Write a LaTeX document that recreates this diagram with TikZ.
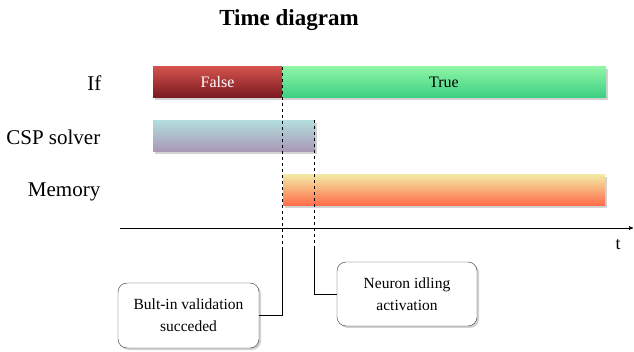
\documentclass[tikz,border=0pt]{standalone}
\usepackage{fontspec}
\setmainfont{Liberation Serif}
\usetikzlibrary{arrows,shadows}

\definecolor{falsetop}{HTML}{D1524C}
\definecolor{falsebot}{HTML}{7A1820}
\definecolor{truetop}{HTML}{8EF5A6}
\definecolor{truebot}{HTML}{3CCF82}
\definecolor{csptop}{HTML}{B2DCDC}
\definecolor{cspbot}{HTML}{A996B6}
\definecolor{memtop}{HTML}{F4E7A2}
\definecolor{membot}{HTML}{FF6A48}

\begin{document}
\begin{tikzpicture}[x=1pt,y=-1pt,>=stealth',thick,
  bar node/.style={rectangle,draw=none,minimum height=31pt,inner sep=0pt,
    drop shadow={shadow xshift=2pt,shadow yshift=-2pt,fill=black!25,opacity=0.7},
    font=\fontsize{16}{18}\selectfont},
  row label/.style={anchor=east,font=\fontsize{21}{23}\selectfont},
  note node/.style={rectangle,rounded corners=9pt,draw=black!80,fill=white,thin,
    minimum width=141pt,minimum height=65pt,align=center,
    drop shadow={shadow xshift=2pt,shadow yshift=-2pt,fill=black!25,opacity=0.7},
    font=\fontsize{15.5}{22}\selectfont}]

  \useasboundingbox (0,0) rectangle (634,352);

  \node[font=\fontsize{23}{26}\selectfont\bfseries] (title) at (289,20) {Time diagram};

  \node[row label] (lif) at (105,83) {If};
  \node[row label] (lcsp) at (104,137) {CSP solver};
  \node[row label] (lmem) at (104,192) {Memory};

  \node[bar node,minimum width=129pt,top color=falsetop,bottom color=falsebot,text=white] (false) at (217.5,82.5) {False};
  \node[bar node,minimum width=324pt,top color=truetop,bottom color=truebot] (true) at (444,82.5) {True};
  \node[bar node,minimum width=162pt,top color=csptop,bottom color=cspbot] (csp) at (234,136.5) {};
  \node[bar node,minimum width=322pt,top color=memtop,bottom color=membot] (mem) at (444,190.5) {};

  \node (axis) at (120,228) {};
  \coordinate (tend) at (633,228);
  \node (t) at (618,245) {\fontsize{18}{20}\selectfont t};
  \draw[->,semithick] (120,228) -- (tend);

  \coordinate (v1top) at (282,67);
  \coordinate (v1mid) at (282,247);
  \coordinate (v2top) at (314,120);
  \coordinate (v2mid) at (314,248);

  \node[note node] (valid) at (188.5,315.5) {Bult-in validation\\succeded};
  \node[note node,minimum width=140pt,minimum height=64pt] (idle) at (407,294) {Neuron idling\\activation};

  \path[thin,black]
    (v1top) edge[dashed] (v1mid)
    (v2top) edge[dashed] (v2mid)
    ;
  \draw[thin] (valid.east) -| (v1mid);
  \draw[thin] (idle.west) -| (v2mid);

\end{tikzpicture}
\end{document}
